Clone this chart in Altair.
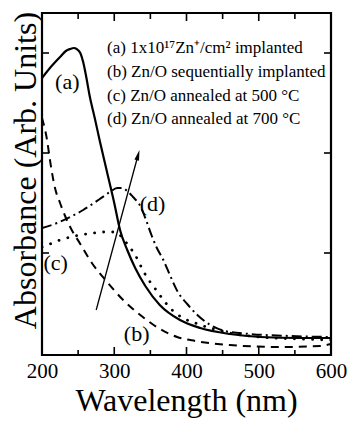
import altair as alt
import pandas as pd

# ---- data ----
wl_a = [200, 211, 225, 233, 239, 244, 248, 253, 257, 261, 266, 273, 280, 290, 300, 308, 318, 329, 343, 363, 391, 419, 460, 502, 557, 600]
ab_a = [2.77, 2.87, 2.98, 3.04, 3.06, 3.07, 3.06, 3.02, 2.93, 2.79, 2.59, 2.37, 2.14, 1.83, 1.52, 1.25, 1.05, 0.87, 0.69, 0.50, 0.35, 0.27, 0.21, 0.18, 0.17, 0.17]

wl_b = [200, 207, 211, 218, 225, 232, 239, 253, 269, 289, 311, 336, 361, 387, 412, 460, 529, 585, 600]
ab_b = [2.37, 2.15, 1.95, 1.67, 1.52, 1.39, 1.28, 1.11, 0.92, 0.74, 0.56, 0.40, 0.27, 0.18, 0.14, 0.10, 0.08, 0.09, 0.11]

wl_c = [200, 211, 225, 246, 271, 287, 301, 309, 319, 329, 336, 345, 356, 366, 380, 395, 412, 428, 444, 460, 502, 557, 600]
ab_c = [1.08, 1.11, 1.15, 1.19, 1.22, 1.23, 1.23, 1.19, 1.10, 1.00, 0.90, 0.78, 0.67, 0.57, 0.45, 0.37, 0.32, 0.28, 0.25, 0.22, 0.18, 0.16, 0.15]

wl_d = [200, 221, 239, 257, 280, 294, 304, 311, 318, 326, 336, 345, 352, 359, 368, 377, 388, 401, 415, 433, 453, 488, 543, 600]
ab_d = [1.27, 1.32, 1.38, 1.45, 1.56, 1.63, 1.67, 1.67, 1.64, 1.58, 1.49, 1.33, 1.19, 1.07, 0.95, 0.80, 0.63, 0.51, 0.40, 0.30, 0.24, 0.21, 0.19, 0.18]

arrow_wl = [275, 333]
arrow_ab = [0.45, 2.00]

curve_labels = ["(a)", "(b)", "(c)", "(d)"]
curve_label_wl = [235, 331, 219, 353]
curve_label_ab = [2.73, 0.21, 0.92, 1.51]

legend_lines = [
    "(a) 1x10\u00b9\u2077Zn\u207a/cm\u00b2 implanted",
    "(b) Zn/O sequentially implanted",
    "(c) Zn/O annealed at 500 \u00b0C",
    "(d) Zn/O annealed at 700 \u00b0C",
]
legend_wl = [290, 290, 290, 290]
legend_ab = [3.07, 2.83, 2.59, 2.36]

x_major = [300, 400, 500]
x_minor = [250, 350, 450, 550]
y_ticks = [1.02, 2.02, 3.02]
x_labels = [200, 300, 400, 500, 600]

FONT = "Liberation Serif"
W, H = 289, 342

xs = alt.Scale(domain=[200, 600], nice=False, zero=False)
ys = alt.Scale(domain=[0, 3.42], nice=False, zero=False)

X = alt.X("wl:Q", scale=xs, title="Wavelength (nm)")
Y = alt.Y("ab:Q", scale=ys, title="Absorbance (Arb. Units)")


def curve(wl, ab, dash, width=2.0, cap="butt"):
    df = pd.DataFrame({"wl": wl, "ab": ab})
    kw = dict(color="black", strokeWidth=width, interpolate="monotone", strokeCap=cap, clip=True)
    if dash:
        kw["strokeDash"] = dash
    return alt.Chart(df).mark_line(**kw).encode(x=X, y=Y)


# base layer carrying the axes (labels + titles only)
axis_df = pd.DataFrame({"wl": x_labels, "ab": [0] * len(x_labels)})
base = alt.Chart(axis_df).mark_point(opacity=0).encode(
    x=alt.X("wl:Q", scale=xs, title="Wavelength (nm)", axis=alt.Axis(
        values=x_labels, format="d", ticks=False, tickSize=0, domain=False, grid=False,
        labelFont=FONT, labelFontSize=21, labelColor="black", labelPadding=5,
        labelFlush=False, labelOverlap=False,
        titleFont=FONT, titleFontSize=32, titleFontWeight="normal",
        titleColor="black", titleX=144, titleY=55, titleBaseline="alphabetic", titleAlign="center")),
    y=alt.Y("ab:Q", scale=ys, title="Absorbance (Arb. Units)", axis=alt.Axis(
        labels=False, ticks=False, domain=False, grid=False,
        titleFont=FONT, titleFontSize=32, titleFontWeight="normal",
        titleColor="black", titleX=-7, titleY=157, titleAngle=-90, titleBaseline="alphabetic",
        titleAlign="center")),
)

line_a = curve(wl_a, ab_a, None, 2.2)
line_b = curve(wl_b, ab_b, [8, 6], 2.0)
line_c = curve(wl_c, ab_c, [0.1, 9], 2.8, cap="round")
line_d = curve(wl_d, ab_d, [10, 4, 2, 4], 2.0)

arrow_df = pd.DataFrame({"wl": arrow_wl, "ab": arrow_ab})
arrow_line = alt.Chart(arrow_df).mark_line(color="black", strokeWidth=1.3).encode(x=X, y=Y)
head_df = pd.DataFrame({"wl": [arrow_wl[1]], "ab": [arrow_ab[1]]})
arrow_head = alt.Chart(head_df).mark_point(
    shape="M0,-1L0.45,1L-0.45,1Z", filled=True, color="black", size=110, angle=15, opacity=1
).encode(x=X, y=Y)

lab_df = pd.DataFrame({"t": curve_labels, "wl": curve_label_wl, "ab": curve_label_ab})
labels = alt.Chart(lab_df).mark_text(font=FONT, fontSize=22, color="black", align="center", baseline="middle").encode(
    x=X, y=Y, text="t:N")

leg_df = pd.DataFrame({"t": legend_lines, "wl": legend_wl, "ab": legend_ab})
legend = alt.Chart(leg_df).mark_text(font=FONT, fontSize=17, color="black", align="left", baseline="middle").encode(
    x=X, y=Y, text="t:N")

# inward ticks on all four sides
maj_df = pd.DataFrame({"wl": x_major})
min_df = pd.DataFrame({"wl": x_minor})
yt_df = pd.DataFrame({"ab": y_ticks})
tick_kw = dict(color="black", strokeWidth=1.6)
bot_major = alt.Chart(maj_df).mark_rule(**tick_kw).encode(x=X, y=alt.value(H), y2=alt.value(H - 8))
bot_minor = alt.Chart(min_df).mark_rule(**tick_kw).encode(x=X, y=alt.value(H), y2=alt.value(H - 5))
top_major = alt.Chart(maj_df).mark_rule(**tick_kw).encode(x=X, y=alt.value(0), y2=alt.value(8))
top_minor = alt.Chart(min_df).mark_rule(**tick_kw).encode(x=X, y=alt.value(0), y2=alt.value(6))
left_t = alt.Chart(yt_df).mark_rule(**tick_kw).encode(y=Y, x=alt.value(0), x2=alt.value(7))
right_t = alt.Chart(yt_df).mark_rule(**tick_kw).encode(y=Y, x=alt.value(W), x2=alt.value(W - 7))

chart = alt.layer(
    base, bot_major, bot_minor, top_major, top_minor, left_t, right_t,
    line_b, line_c, line_d, line_a, arrow_line, arrow_head, labels, legend,
).properties(
    width=W, height=H,
    autosize=alt.AutoSizeParams(type="none"),
    padding={"left": 42, "top": 13, "right": 18, "bottom": 66},
    background="white",
).configure_view(stroke="black", strokeWidth=2.2)

chart.save("out.html", embed_options={"renderer": "svg", "actions": False})
